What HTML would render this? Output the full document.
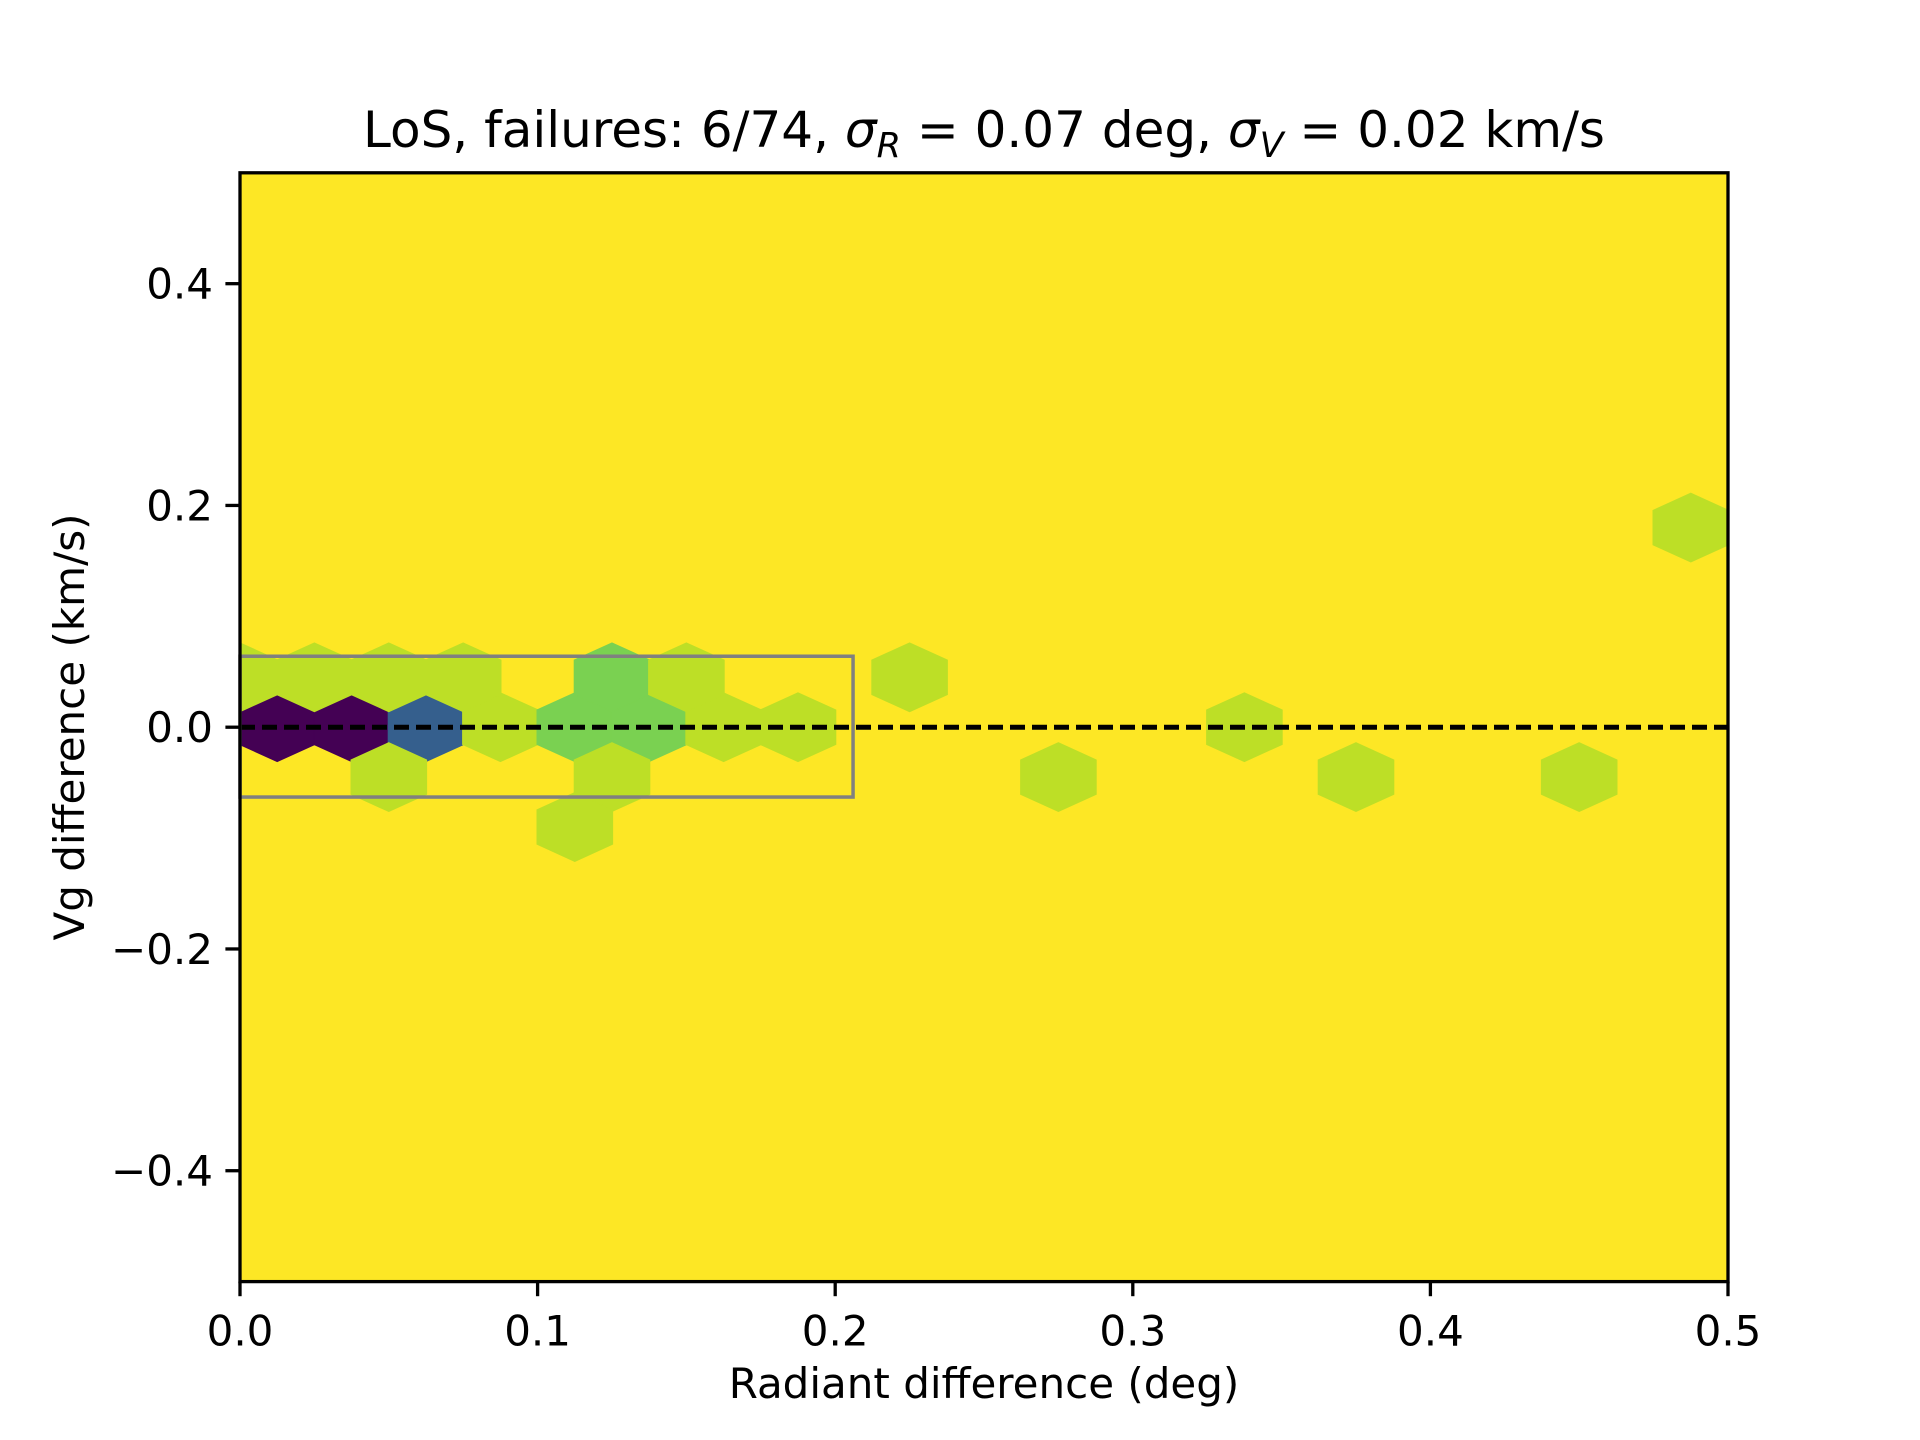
<!DOCTYPE html>
<html><head><meta charset="utf-8"><style>
html,body{margin:0;padding:0;background:#fff;}
svg{display:block;font-family:"DejaVu Sans","Liberation Sans",sans-serif;}
</style></head><body>
<svg id="chart" width="1920" height="1440" viewBox="0 0 1920 1440">
<rect x="240" y="172.8" width="1488" height="1108.8" fill="#fde725"/>
<g id="hexes"></g>
<g id="overlay"></g>
<rect x="240" y="172.8" width="1488" height="1108.8" fill="none" stroke="#000" stroke-width="3.3"/>
<g id="ticks"></g>
<text x="984" y="147" font-size="50" text-anchor="middle">LoS, failures: 6/74, <tspan font-style="italic">σ</tspan><tspan font-size="35" font-style="italic" dy="10">R</tspan><tspan dy="-10"> = 0.07 deg, </tspan><tspan font-style="italic">σ</tspan><tspan font-size="35" font-style="italic" dy="10">V</tspan><tspan dy="-10"> = 0.02 km/s</tspan></text>
<text x="984" y="1398" font-size="42" text-anchor="middle">Radiant difference (deg)</text>
<text x="0" y="0" font-size="42" text-anchor="middle" transform="translate(84,727) rotate(-90)">Vg difference (km/s)</text>
</svg>
<script>
// hexbin data: bin centers and counts
const binX = [0.0125,0.0375,0.0625,0.0875,0.1125,0.1375,0.1625,0.1875,0.3375, 0.0,0.025,0.05,0.075,0.125,0.15,0.225, 0.05,0.125,0.275,0.375,0.45, 0.1125, 0.4875];
const binY = [0,0,0,0,0,0,0,0,0, 0.045,0.045,0.045,0.045,0.045,0.045,0.045, -0.045,-0.045,-0.045,-0.045,-0.045, -0.09, 0.18];
const binCount = [10,10,7,1,2,2,1,1,1, 1,1,1,1,2,1,1, 1,1,1,1,1, 1, 1];
const xTicks = [0,0.1,0.2,0.3,0.4,0.5];
const xTickLabels = ["0.0","0.1","0.2","0.3","0.4","0.5"];
const yTicks = [-0.4,-0.2,0,0.2,0.4];
const yTickLabels = ["\u22120.4","\u22120.2","0.0","0.2","0.4"];
const boxX = [0, 0.206];
const boxY = [-0.063, 0.064];
const countMax = 10;

const L=240,R=1728,T=172.8,B=1281.6;
const sx = v => L + (v-0)/(0.5-0)*(R-L);
const sy = v => B - (v+0.5)/(1.0)*(B-T);
const NS='http://www.w3.org/2000/svg';
const vir=[[0,"#440154"],[0.1,"#482475"],[0.2,"#414487"],[0.3,"#355f8d"],[0.4,"#2a788e"],[0.5,"#21918c"],[0.6,"#22a884"],[0.7,"#44bf70"],[0.8,"#7ad151"],[0.9,"#bddf26"],[1,"#fde725"]];
function hex2rgb(h){return [1,3,5].map(i=>parseInt(h.substr(i,2),16));}
function viridis(t){t=Math.max(0,Math.min(1,t));for(let i=0;i<vir.length-1;i++){if(t<=vir[i+1][0]+1e-9){const f=(t-vir[i][0])/(vir[i+1][0]-vir[i][0]);const a=hex2rgb(vir[i][1]),b=hex2rgb(vir[i+1][1]);return 'rgb('+a.map((v,k)=>Math.round(v+(b[k]-v)*f)).join(',')+')';}}return vir[vir.length-1][1];}

const clip=document.createElementNS(NS,'clipPath');clip.setAttribute('id','pc');
const cr=document.createElementNS(NS,'rect');cr.setAttribute('x',L);cr.setAttribute('y',T);cr.setAttribute('width',R-L);cr.setAttribute('height',B-T);
clip.appendChild(cr);document.getElementById('chart').appendChild(clip);
const hg=document.getElementById('hexes');hg.setAttribute('clip-path','url(#pc)');
const hw=0.0127, hh=0.031, he=0.0155;
for(let i=0;i<binX.length;i++){
  const cx=binX[i],cy=binY[i];
  const pts=[[cx,cy+hh],[cx+hw,cy+he],[cx+hw,cy-he],[cx,cy-hh],[cx-hw,cy-he],[cx-hw,cy+he]].map(p=>sx(p[0]).toFixed(1)+','+sy(p[1]).toFixed(1)).join(' ');
  const p=document.createElementNS(NS,'polygon');
  const col=viridis(1-binCount[i]/countMax);
  p.setAttribute('points',pts);
  p.setAttribute('fill',col);
  p.setAttribute('stroke',col);
  p.setAttribute('stroke-width','1');
  
  
  hg.appendChild(p);
}
const ov=document.getElementById('overlay');
const ln=document.createElementNS(NS,'line');
ln.setAttribute('x1',sx(0));ln.setAttribute('x2',sx(0.5));ln.setAttribute('y1',sy(0));ln.setAttribute('y2',sy(0));
ln.setAttribute('stroke','#000');ln.setAttribute('stroke-width','5');ln.setAttribute('stroke-dasharray','15 7');


ov.appendChild(ln);
const bx=document.createElementNS(NS,'rect');
bx.setAttribute('x',sx(boxX[0]));bx.setAttribute('width',sx(boxX[1])-sx(boxX[0]));
bx.setAttribute('y',sy(boxY[1]));bx.setAttribute('height',sy(boxY[0])-sy(boxY[1]));
bx.setAttribute('fill','none');bx.setAttribute('stroke','#808080');bx.setAttribute('stroke-width','3.5');


ov.appendChild(bx);

const tg=document.getElementById('ticks');
xTicks.forEach((v,i)=>{
  const l=document.createElementNS(NS,'line');
  l.setAttribute('x1',sx(v));l.setAttribute('x2',sx(v));l.setAttribute('y1',B);l.setAttribute('y2',B+14.6);
  l.setAttribute('stroke','#000');l.setAttribute('stroke-width','3.3');
  
  
  tg.appendChild(l);
  const t=document.createElementNS(NS,'text');
  t.setAttribute('x',sx(v));t.setAttribute('y',B+64);t.setAttribute('font-size','42');t.setAttribute('text-anchor','middle');
  t.textContent=xTickLabels[i];
  
  
  tg.appendChild(t);
});
yTicks.forEach((v,i)=>{
  const l=document.createElementNS(NS,'line');
  l.setAttribute('x1',L-14.6);l.setAttribute('x2',L);l.setAttribute('y1',sy(v));l.setAttribute('y2',sy(v));
  l.setAttribute('stroke','#000');l.setAttribute('stroke-width','3.3');
  
  
  tg.appendChild(l);
  const t=document.createElementNS(NS,'text');
  t.setAttribute('x',L-27);t.setAttribute('y',sy(v)+15);t.setAttribute('font-size','42');t.setAttribute('text-anchor','end');
  t.textContent=yTickLabels[i];
  
  
  tg.appendChild(t);
});
</script>
</body></html>
